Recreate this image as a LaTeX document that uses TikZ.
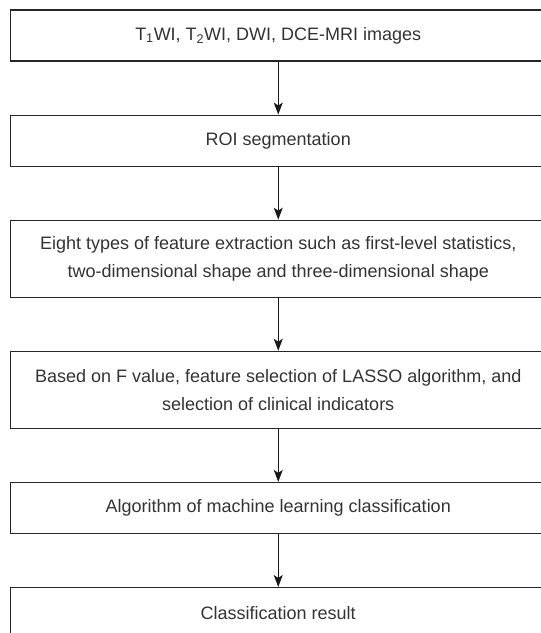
\documentclass[tikz,border=0pt]{standalone}
\usepackage{fontspec}
\setmainfont{Liberation Sans}
\usepackage{xcolor}
\usetikzlibrary{arrows.meta, positioning}

\begin{document}
\begin{tikzpicture}[
  font=\fontsize{18pt}{28pt}\selectfont,
  box/.style={draw=black!85, line width=1.1pt, minimum width=535.5pt,
              minimum height=51pt, align=center, text=black!80, inner sep=0pt},
  tallbox/.style={box, minimum height=77pt},
  arr/.style={-{Stealth[length=12pt, width=9pt, inset=3pt]}, line width=1pt, draw=black!90},
  node distance=53pt
]
  \useasboundingbox (0,0) rectangle (541pt,-633pt);

  % Steps from top to bottom
  \node[box] (img) at (278.25pt,-35.5pt)
        {T\textsubscript{1}WI, T\textsubscript{2}WI, DWI, DCE-MRI images};
  \node[box, below=of img] (roi) {ROI segmentation};
  \node[tallbox, below=of roi] (feat)
        {Eight types of feature extraction such as first-level statistics,\\
         two-dimensional shape and three-dimensional shape};
  \node[tallbox, below=of feat] (sel)
        {Based on F value, feature selection of LASSO algorithm, and\\
         selection of clinical indicators};
  \node[box, below=of sel] (ml) {Algorithm of machine learning classification};
  \node[box, below=of ml] (res) {Classification result};

  % Arrows between the steps
  \draw[arr] (img.south)  -- (roi.north);
  \draw[arr] (roi.south)  -- (feat.north);
  \draw[arr] (feat.south) -- (sel.north);
  \draw[arr] (sel.south)  -- (ml.north);
  \draw[arr] (ml.south)   -- (res.north);

\end{tikzpicture}
\end{document}
